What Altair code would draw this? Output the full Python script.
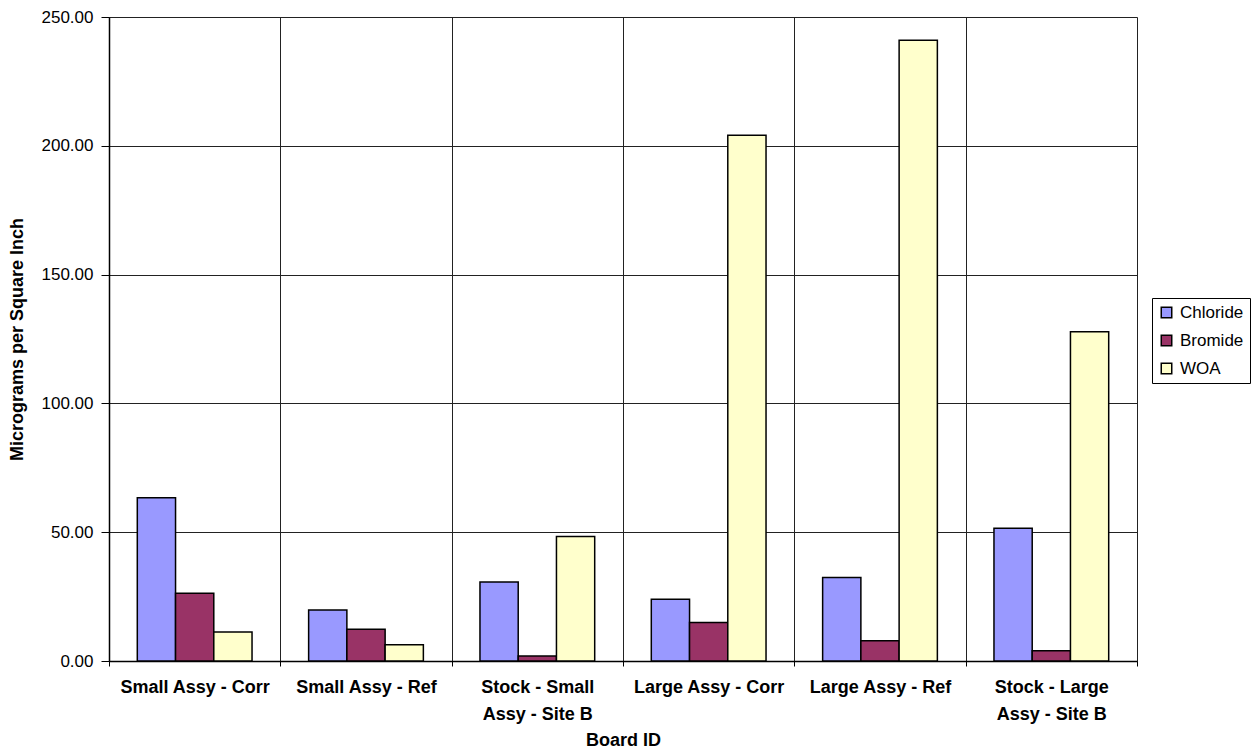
import altair as alt
import pandas as pd

boards = [
    "Small Assy - Corr",
    "Small Assy - Ref",
    "Stock - Small\nAssy - Site B",
    "Large Assy - Corr",
    "Large Assy - Ref",
    "Stock - Large\nAssy - Site B",
]
series = ["Chloride", "Bromide", "WOA"]
colors = ["#9999FF", "#993366", "#FFFFCC"]

chloride = [63.4, 19.8, 30.7, 24.0, 32.4, 51.5]
bromide = [26.3, 12.3, 1.9, 14.9, 7.9, 4.0]
woa = [11.3, 6.3, 48.3, 204.1, 241.0, 127.8]

y_ticks = [0, 50, 100, 150, 200, 250]

rows = []
for i, b in enumerate(boards):
    for s, vals in zip(series, [chloride, bromide, woa]):
        rows.append({"Board": b, "Ion": s, "Value": vals[i]})
df = pd.DataFrame(rows)

FONT = "Liberation Sans"

chart = (
    alt.Chart(df)
    .mark_bar(stroke="black", strokeWidth=1.5)
    .encode(
        x=alt.X(
            "Board:N",
            sort=boards,
            scale=alt.Scale(paddingInner=0, paddingOuter=0),
            axis=alt.Axis(
                title="Board ID",
                labelAngle=0,
                tickBand="extent",
                grid=True,
                gridColor="#222222",
                gridOpacity=1,
                gridWidth=1,
                domainColor="black",
                domainWidth=1.5,
                tickColor="black",
                tickSize=5,
                labelExpr="split(datum.label, '\\n')",
                labelFont=FONT,
                labelFontWeight="bold",
                labelFontSize=18,
                labelLineHeight=27,
                labelPadding=12,
                labelColor="black",
                titleFont=FONT,
                titleFontSize=18,
                titleFontWeight="bold",
                titlePadding=8,
                titleColor="black",
            ),
        ),
        xOffset=alt.XOffset(
            "Ion:N", sort=series, scale=alt.Scale(paddingInner=0, paddingOuter=0.74)
        ),
        y=alt.Y(
            "Value:Q",
            scale=alt.Scale(domain=[0, 250], nice=False),
            axis=alt.Axis(
                title="Micrograms per Square Inch",
                values=y_ticks,
                format=".2f",
                grid=True,
                gridColor="#222222",
                gridOpacity=1,
                gridWidth=1,
                domainColor="black",
                domainWidth=1.5,
                tickColor="black",
                tickSize=8,
                labelPadding=8,
                labelFont=FONT,
                labelFontSize=17,
                labelColor="black",
                titleFont=FONT,
                titleFontSize=18,
                titleFontWeight="bold",
                titlePadding=15,
                titleColor="black",
            ),
        ),
        color=alt.Color(
            "Ion:N",
            sort=series,
            scale=alt.Scale(domain=series, range=colors),
            legend=alt.Legend(
                title=None,
                orient="none",
                legendX=1043,
                legendY=281,
                strokeColor="black",
                padding=6,
                symbolType="square",
                symbolSize=110,
                symbolStrokeColor="black",
                symbolStrokeWidth=1.5,
                symbolOpacity=1,
                labelFont=FONT,
                labelFontSize=17,
                labelColor="black",
                labelOffset=5,
                rowPadding=10,
            ),
        ),
    )
    .properties(
        width=1028,
        height=644,
        autosize=alt.AutoSizeParams(type="none"),
        padding={"left": 109, "top": 17, "right": 116, "bottom": 94},
    )
    .configure_view(stroke="#333333", strokeWidth=1.5)
    .configure(font=FONT, background="white")
)

chart.save("out.html", embed_options={"renderer": "svg", "actions": False})
